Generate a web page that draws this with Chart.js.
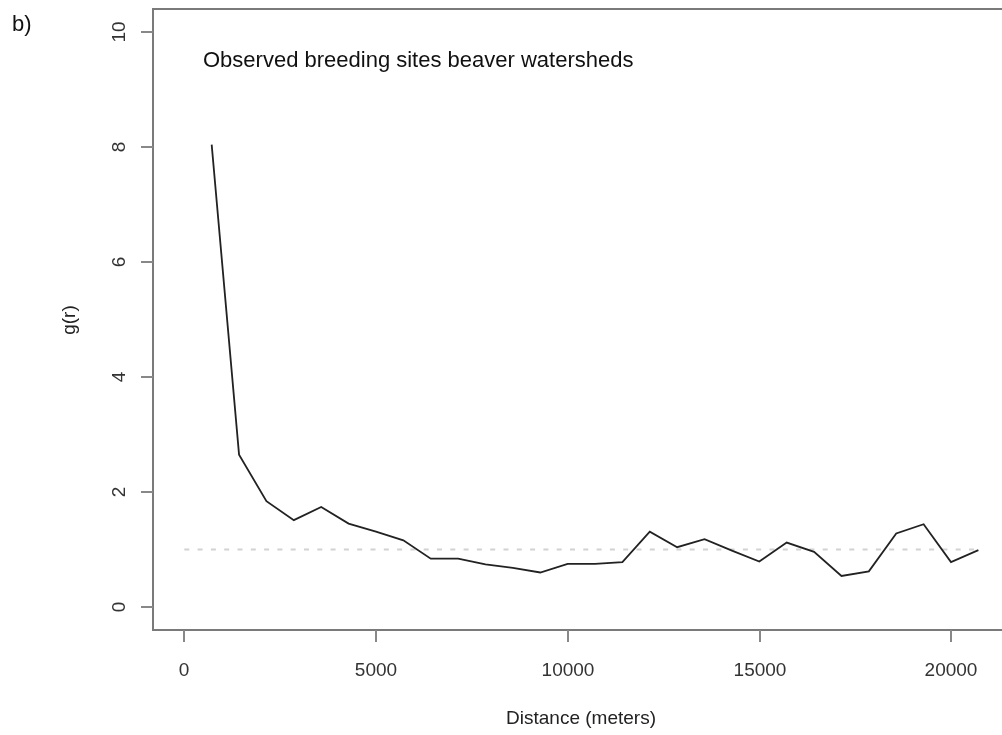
<!DOCTYPE html>
<html>
<head>
<meta charset="utf-8">
<script src="https://cdn.jsdelivr.net/npm/chart.js@4/dist/chart.umd.min.js"></script>
<style>
  html, body { margin: 0; padding: 0; background: #ffffff; overflow: hidden; }
  #wrap { position: relative; width: 1002px; height: 735px; }
  canvas { display: block; }
</style>
</head>
<body>
<div id="wrap"><canvas id="c" width="1002" height="735"></canvas></div>
<script>
// ---- data ----
const distances = [714, 1428, 2142, 2856, 3570, 4284, 4998, 5712, 6426, 7140,
  7854, 8568, 9282, 9996, 10710, 11424, 12138, 12852, 13566, 14280,
  14994, 15708, 16422, 17136, 17850, 18564, 19278, 19992, 20706];
const gValues = [8.04, 2.65, 1.84, 1.51, 1.74, 1.45, 1.31, 1.16, 0.84, 0.84,
  0.74, 0.68, 0.60, 0.75, 0.75, 0.78, 1.31, 1.04, 1.18, 0.98,
  0.79, 1.12, 0.96, 0.54, 0.62, 1.28, 1.44, 0.78, 0.99];
const refX = [0, 20706];
const refY = [1, 1];
const xTicks = [0, 5000, 10000, 15000, 20000];
const yTicks = [0, 2, 4, 6, 8, 10];
const xTitle = "Distance (meters)";
const yTitle = "g(r)";
const panelTitle = "Observed breeding sites beaver watersheds";
const panelLabel = "b)";

const FONT = '"Liberation Sans", Arial, Helvetica, sans-serif';

const decor = {
  id: 'decor',
  afterDraw(chart) {
    const ctx = chart.ctx;
    const a = chart.chartArea;
    const xs = chart.scales.x, ys = chart.scales.y;
    ctx.save();
    // box (left, top, bottom)
    ctx.strokeStyle = '#7a7a7a';
    ctx.lineWidth = 2;
    ctx.beginPath();
    ctx.moveTo(chart.width, a.top);
    ctx.lineTo(a.left, a.top);
    ctx.lineTo(a.left, a.bottom);
    ctx.lineTo(chart.width, a.bottom);
    ctx.stroke();
    // x ticks
    ctx.strokeStyle = '#888888';
    ctx.fillStyle = '#333333';
    ctx.font = '19px ' + FONT;
    ctx.textAlign = 'center';
    ctx.textBaseline = 'alphabetic';
    xTicks.forEach(v => {
      const px = Math.round(xs.getPixelForValue(v));
      ctx.beginPath();
      ctx.moveTo(px, a.bottom);
      ctx.lineTo(px, a.bottom + 12);
      ctx.stroke();
      ctx.fillText(String(v), px, 676);
    });
    // y ticks
    yTicks.forEach(v => {
      const py = Math.round(ys.getPixelForValue(v));
      ctx.beginPath();
      ctx.moveTo(a.left - 12, py);
      ctx.lineTo(a.left, py);
      ctx.stroke();
      ctx.save();
      ctx.translate(125, py);
      ctx.rotate(-Math.PI / 2);
      ctx.fillText(String(v), 0, 0);
      ctx.restore();
    });
    // axis titles
    ctx.fillStyle = '#222222';
    ctx.fillText(xTitle, 581, 724);
    ctx.save();
    ctx.translate(75, 320);
    ctx.rotate(-Math.PI / 2);
    ctx.fillText(yTitle, 0, 0);
    ctx.restore();
    // panel title inside plot
    ctx.fillStyle = '#111111';
    ctx.font = '22px ' + FONT;
    ctx.textAlign = 'left';
    ctx.fillText(panelTitle, 203, 67);
    // panel label
    ctx.fillText(panelLabel, 12, 31);
    ctx.restore();
  }
};

new Chart(document.getElementById('c'), {
  type: 'line',
  data: {
    datasets: [
      {
        label: 'g(r)',
        data: distances.map((d, i) => ({ x: d, y: gValues[i] })),
        borderColor: '#222222',
        borderWidth: 1.8,
        pointRadius: 0,
        tension: 0,
        fill: false
      },
      {
        label: 'reference',
        data: refX.map((d, i) => ({ x: d, y: refY[i] })),
        borderColor: '#d2d2d2',
        borderWidth: 2,
        borderDash: [5, 8.3],
        pointRadius: 0,
        tension: 0,
        fill: false,
        order: 2
      }
    ]
  },
  options: {
    responsive: false,
    animation: false,
    devicePixelRatio: 1,
    layout: { padding: { left: 153, top: 9, right: 0, bottom: 105 } },
    plugins: { legend: { display: false }, tooltip: { enabled: false }, title: { display: false } },
    scales: {
      x: { type: 'linear', min: -816, max: 21322, display: false },
      y: { type: 'linear', min: -0.4, max: 10.4, display: false }
    }
  },
  plugins: [decor]
});
</script>
</body>
</html>
